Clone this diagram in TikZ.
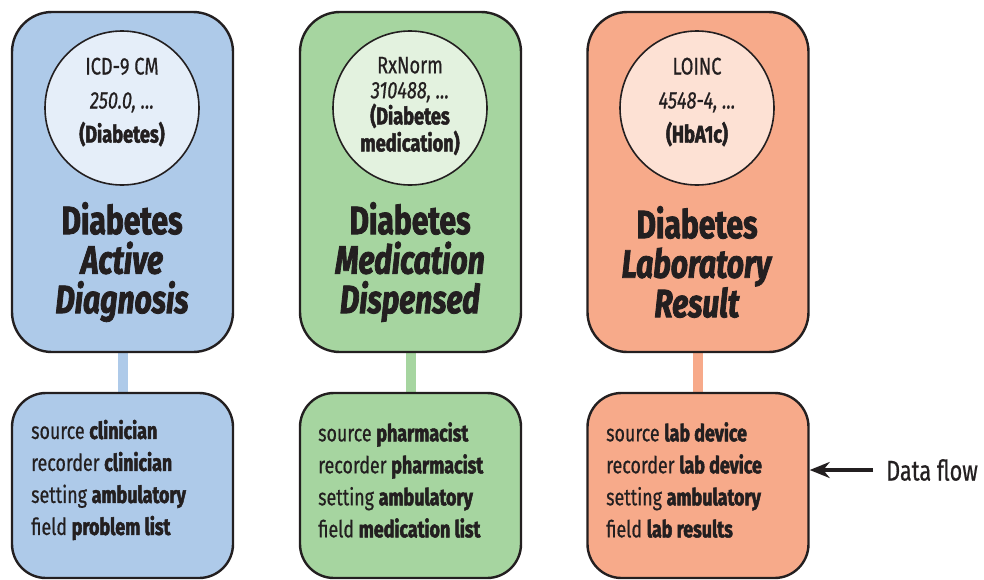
\documentclass[tikz,border=0pt]{standalone}
\usepackage{fontspec}
\setmainfont{Fira Sans}[FakeStretch=0.76,
  UprightFeatures={FakeBold=0.6}, ItalicFeatures={FakeBold=0.6},
  BoldFeatures={FakeBold=2}, BoldItalicFeatures={FakeBold=2}]
\usetikzlibrary{arrows.meta,backgrounds}
\definecolor{bluefill}{HTML}{AECAE9}
\definecolor{bluelite}{HTML}{E5EEF9}
\definecolor{greenfill}{HTML}{A6D5A0}
\definecolor{greenlite}{HTML}{E3F2DF}
\definecolor{salmonfill}{HTML}{F7AA8A}
\definecolor{salmonlite}{HTML}{FDE1D4}
\definecolor{ink}{HTML}{231F20}
\tikzset{
  panel/.style={draw=ink, line width=2.4pt, rounded corners=40pt,
    minimum width=221pt, minimum height=340pt, inner sep=0pt},
  infobox/.style={draw=ink, line width=2.4pt, rounded corners=34pt,
    minimum width=221pt, minimum height=185pt, inner sep=0pt},
  codecircle/.style={circle, draw=ink, line width=1.6pt, minimum size=154pt,
    inner sep=0pt},
  codetext/.style={align=center, text=ink, inner sep=0pt,
    font=\fontsize{24}{31}\selectfont},
  titletext/.style={align=center, text=ink, inner sep=0pt,
    font=\fontsize{39.5}{39.5}\selectfont\bfseries},
  infotext/.style={align=left, anchor=west, text=ink, inner sep=0pt,
    font=\fontsize{23.5}{32}\selectfont},
  link/.style={line width=10pt},
}
\begin{document}
\begin{tikzpicture}[x=1pt,y=-1pt]
\useasboundingbox (0,0) rectangle (984,579);

% ---- Active diagnosis column
\node[panel, fill=bluefill] (top1) at (122.5,182) {};
\node[codecircle, fill=bluelite] (code1) at (122,108) {};
\node[codetext] (codetext1) at ([yshift=6pt]code1.center)
  {ICD-9 CM\\[3pt]\textit{250.0, ...}\\[3pt]\textbf{(Diabetes)}};
\node[titletext] (title1) at (122,262) {Diabetes\\\textit{Active}\\\textit{Diagnosis}};
\node[infobox, fill=bluefill] (bot1) at (122.5,485.5) {};
\node[infotext] (info1) at (31,480)
  {source \textbf{clinician}\\recorder \textbf{clinician}\\setting \textbf{ambulatory}\\field \textbf{problem list}};

% ---- Medication dispensed column
\node[panel, fill=greenfill] (top2) at (410.5,182) {};
\node[codecircle, fill=greenlite] (code2) at (410,108) {};
\node[codetext] (codetext2) at ([yshift=2pt]code2.center)
  {RxNorm\\[-6pt]\textit{310488, ...}\\[-5pt]\textbf{(Diabetes}\\[-4pt]\textbf{medication)}};
\node[titletext] (title2) at (410,262) {Diabetes\\\textit{Medication}\\\textit{Dispensed}};
\node[infobox, fill=greenfill] (bot2) at (410.5,485.5) {};
\node[infotext] (info2) at (318,480)
  {source \textbf{pharmacist}\\recorder \textbf{pharmacist}\\setting \textbf{ambulatory}\\field \textbf{medication list}};

% ---- Laboratory result column
\node[panel, fill=salmonfill] (top3) at (698,182) {};
\node[codecircle, fill=salmonlite] (code3) at (697,108) {};
\node[codetext] (codetext3) at ([yshift=6pt]code3.center)
  {LOINC\\[3pt]\textit{4548-4, ...}\\[3pt]\textbf{(HbA1c)}};
\node[titletext] (title3) at (697,262) {Diabetes\\\textit{Laboratory}\\\textit{Result}};
\node[infobox, fill=salmonfill] (bot3) at (698,485.5) {};
\node[infotext] (info3) at (606,480)
  {source \textbf{lab device}\\recorder \textbf{lab device}\\setting \textbf{ambulatory}\\field \textbf{lab results}};

% ---- connectors between panels and their info boxes
\begin{scope}[on background layer]
  \draw[link, bluefill] (top1.south) -- (bot1.north);
  \draw[link, greenfill] (top2.south) -- (bot2.north);
  \draw[link, salmonfill] (top3.south) -- (bot3.north);
\end{scope}

% ---- data flow legend
\node[text=ink, inner sep=0pt, anchor=west, font=\fontsize{28.5}{30}\selectfont] (flow) at (886,470) {Data flow};
\draw[ink, line width=4pt, -{Stealth[length=20pt,width=16pt]}] (flow.west) ++(-13pt,0) coordinate (flowstart) -- (bot3.east |- flowstart);
\end{tikzpicture}
\end{document}
